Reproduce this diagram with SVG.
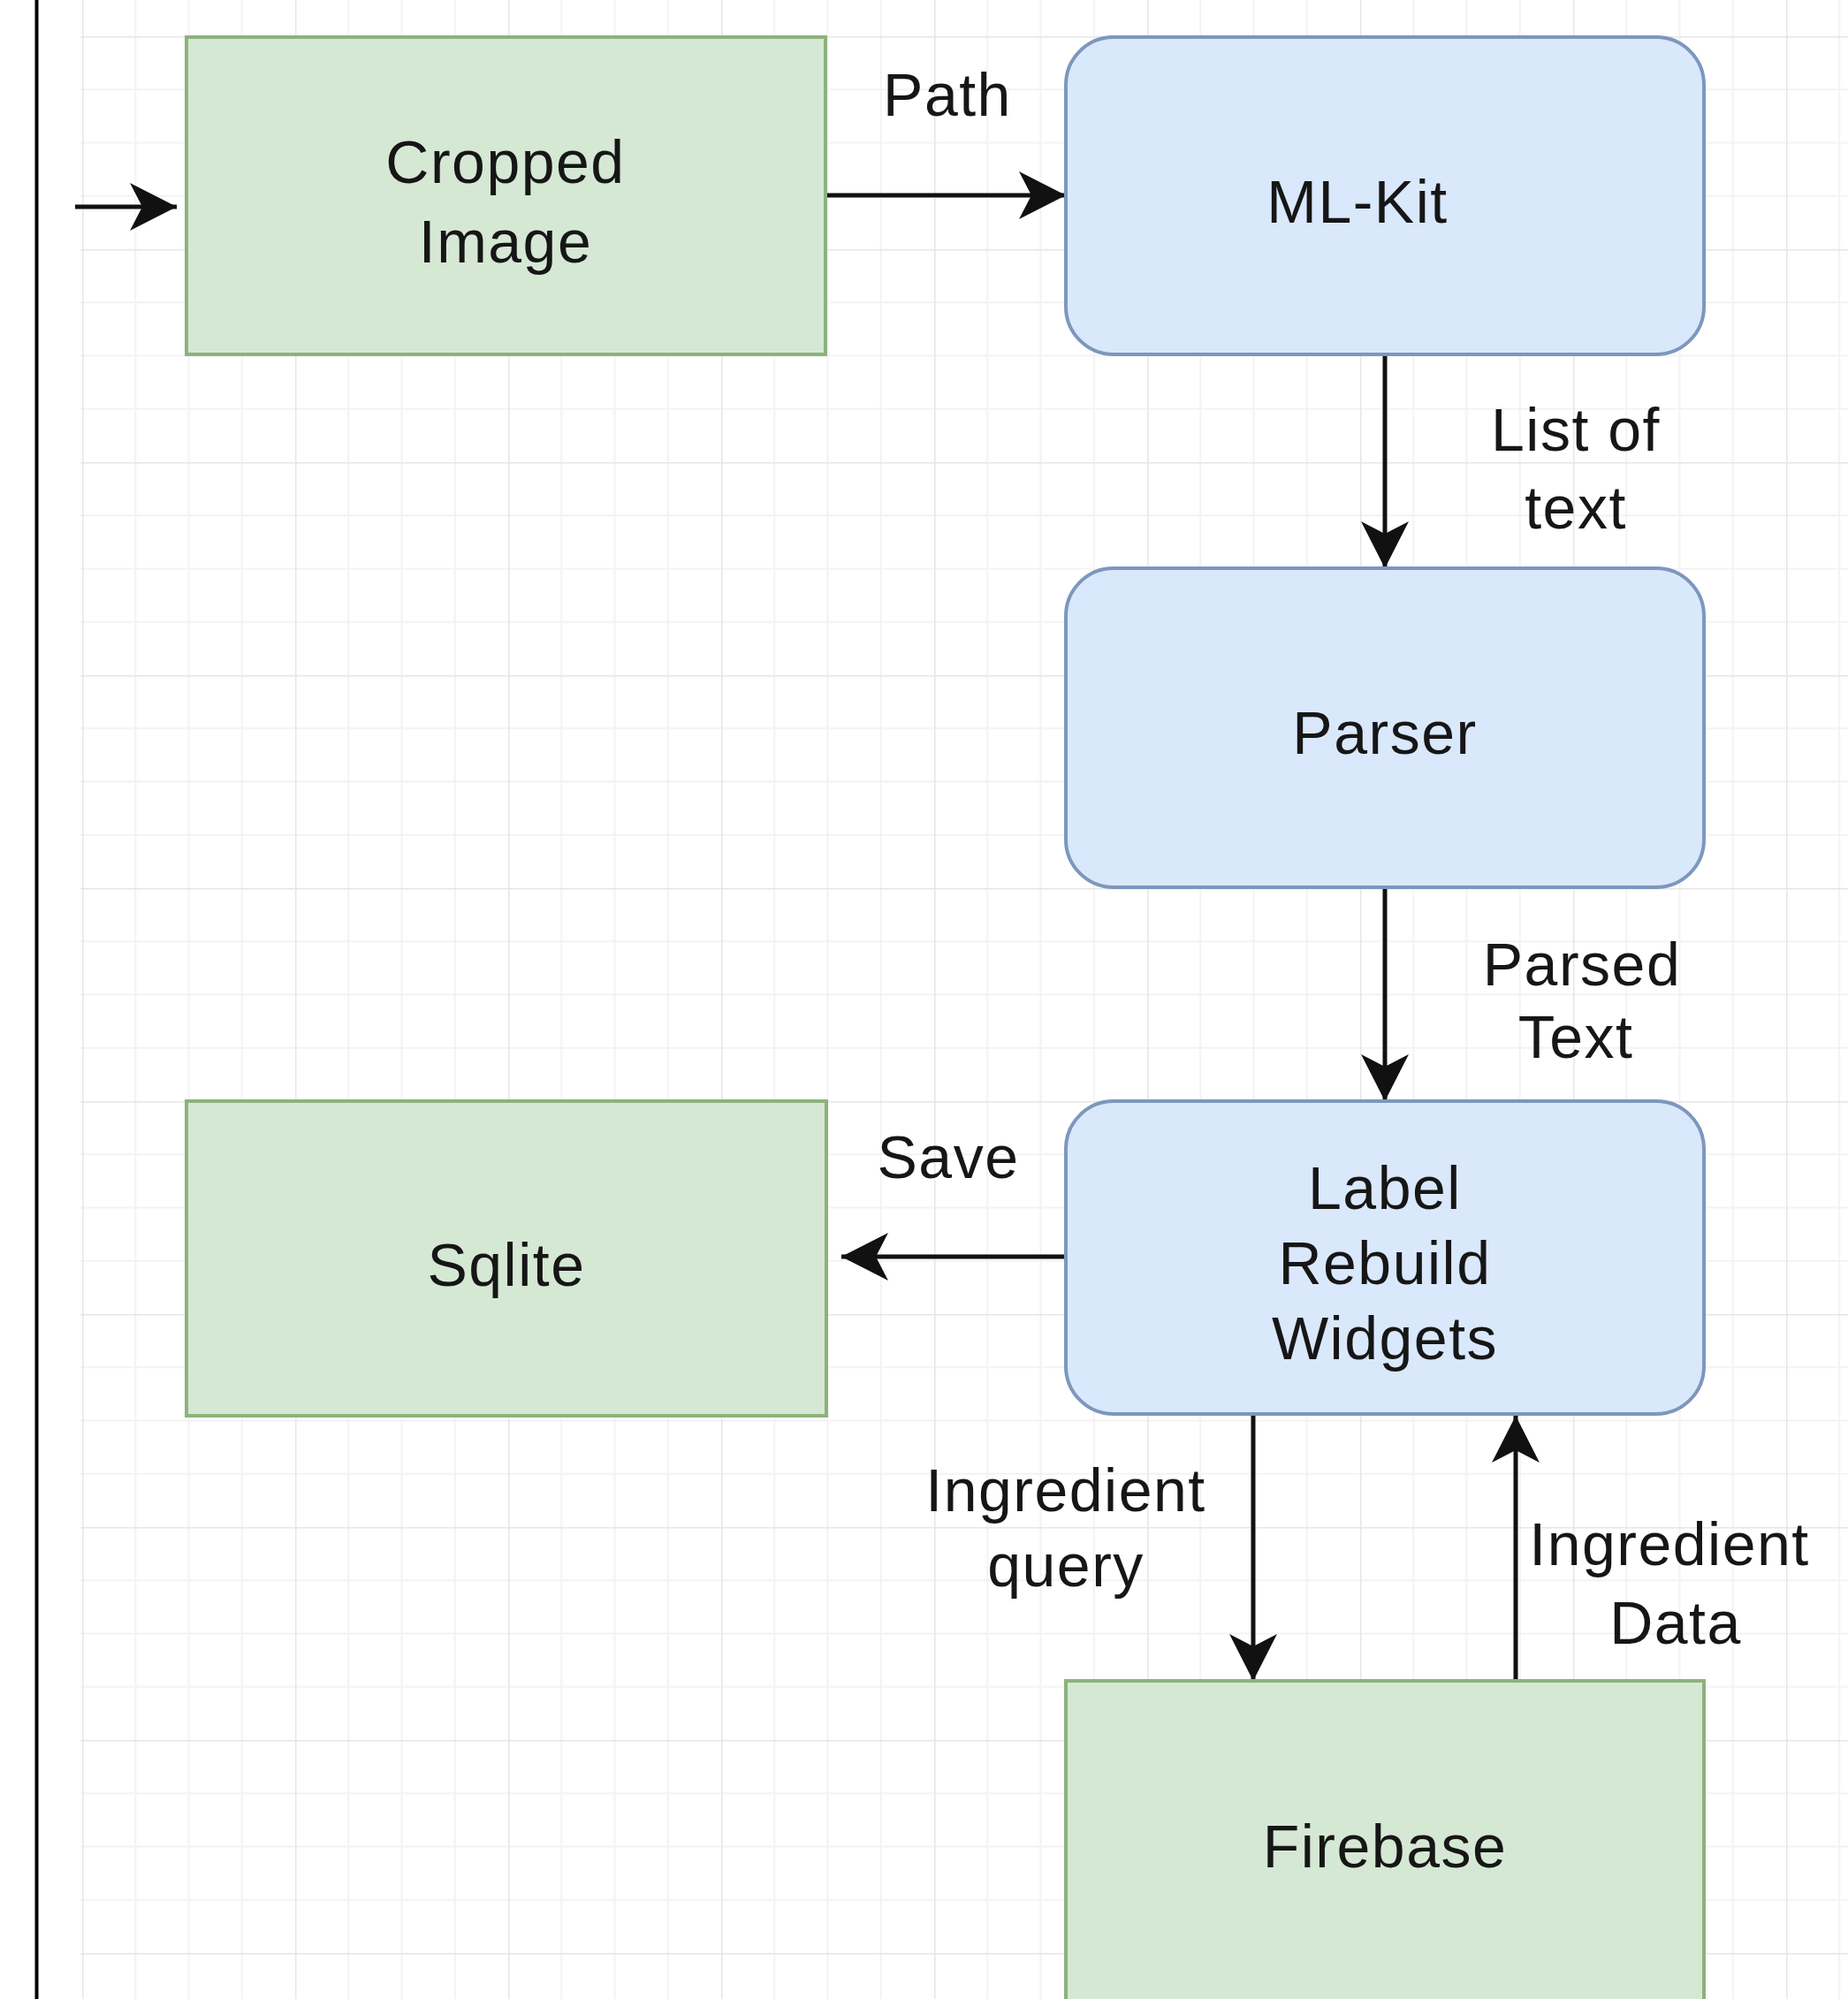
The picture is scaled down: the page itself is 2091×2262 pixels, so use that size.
<svg xmlns="http://www.w3.org/2000/svg" width="2091" height="2262" viewBox="0 0 2091 2262">
  <style>
    .green { fill: #d5e8d4; stroke: #8db27c; stroke-width: 4; }
    .blue { fill: #dae8fc; stroke: #7d97bd; stroke-width: 4; }
    .t { font-family: "Liberation Sans", Arial, sans-serif; font-size: 68px; letter-spacing: 1.5px; fill: #161616; text-anchor: middle; }
    .edge { fill: none; stroke: #111111; stroke-width: 5; }
  </style>
  <defs>
    <pattern id="grid" patternUnits="userSpaceOnUse" x="93" y="41" width="241" height="241">
      <rect width="241" height="241" fill="#ffffff"/>
      <path d="M60.25 0V241M120.5 0V241M180.75 0V241M0 60.25H241M0 120.5H241M0 180.75H241" stroke="#f3f3f3" stroke-width="2"/>
      <path d="M0 0V241M0 0H241" stroke="#e6e6e6" stroke-width="3"/>
    </pattern>
    <marker id="arrow" markerUnits="userSpaceOnUse" viewBox="-60 -32 64 64" refX="0" refY="0" markerWidth="64" markerHeight="64" orient="auto">
      <path d="M0,0 L-53,-27 L-39,0 L-53,27 Z" fill="#111111"/>
    </marker>
  </defs>

  <rect x="0" y="0" width="2091" height="2262" fill="#ffffff"/>
  <rect x="91" y="0" width="2000" height="2262" fill="url(#grid)"/>
  <rect x="39.5" y="0" width="4" height="2262" fill="#000000"/>

  <g id="connectors">
    <path class="edge" d="M85 234H200" marker-end="url(#arrow)"/>
    <path class="edge" d="M934 221H1206" marker-end="url(#arrow)"/>
    <path class="edge" d="M1567 401V643" marker-end="url(#arrow)"/>
    <path class="edge" d="M1567 1004V1246" marker-end="url(#arrow)"/>
    <path class="edge" d="M1207 1422H952" marker-end="url(#arrow)"/>
    <path class="edge" d="M1418 1600V1902" marker-end="url(#arrow)"/>
    <path class="edge" d="M1715 1902V1602" marker-end="url(#arrow)"/>
    <text class="t" x="1072" y="131">Path</text>
    <text class="t" x="1783" y="510">List of</text>
    <text class="t" x="1783" y="598">text</text>
    <text class="t" x="1790" y="1115">Parsed</text>
    <text class="t" x="1783" y="1197">Text</text>
    <text class="t" x="1073" y="1333">Save</text>
    <text class="t" x="1206" y="1710">Ingredient</text>
    <text class="t" x="1206" y="1795">query</text>
    <text class="t" x="1889" y="1771">Ingredient</text>
    <text class="t" x="1896" y="1860">Data</text>
  </g>

  <g id="node-cropped-image">
    <rect class="green" x="211" y="42" width="723" height="359"/>
    <text class="t" x="572" y="207">Cropped</text>
    <text class="t" x="572" y="297">Image</text>
  </g>

  <g id="node-ml-kit">
    <rect class="blue" x="1206" y="42" width="722" height="359" rx="54" ry="54"/>
    <text class="t" x="1536" y="252">ML-Kit</text>
  </g>

  <g id="node-parser">
    <rect class="blue" x="1206" y="643" width="722" height="361" rx="54" ry="54"/>
    <text class="t" x="1567" y="853">Parser</text>
  </g>

  <g id="node-label-rebuild-widgets">
    <rect class="blue" x="1206" y="1246" width="722" height="354" rx="54" ry="54"/>
    <text class="t" x="1567" y="1368">Label</text>
    <text class="t" x="1567" y="1453">Rebuild</text>
    <text class="t" x="1567" y="1538">Widgets</text>
  </g>

  <g id="node-sqlite">
    <rect class="green" x="211" y="1246" width="724" height="356"/>
    <text class="t" x="573" y="1455">Sqlite</text>
  </g>

  <g id="node-firebase">
    <rect class="green" x="1206" y="1902" width="722" height="364"/>
    <text class="t" x="1567" y="2113">Firebase</text>
  </g>
</svg>
